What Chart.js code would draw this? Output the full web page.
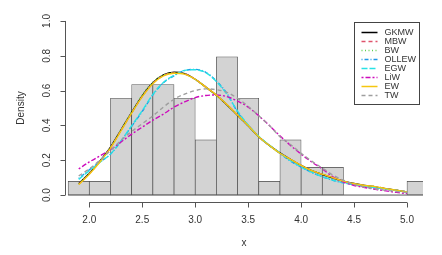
<!DOCTYPE html>
<html>
<head>
<meta charset="utf-8">
<script src="https://cdn.jsdelivr.net/npm/chart.js@4.4.1/dist/chart.umd.min.js"></script>
<style>
  html, body { margin: 0; padding: 0; background: #ffffff; }
  #wrap { width: 442px; height: 255px; }
</style>
</head>
<body>
<div id="wrap"><canvas id="chart" width="442" height="255"></canvas></div>
<script>
// ---------- histogram (density scale, bin width 0.2) ----------
const binMids = [1.9, 2.1, 2.3, 2.5, 2.7, 2.9, 3.1, 3.3, 3.5, 3.7, 3.9, 4.1, 4.3, 4.5, 4.7, 4.9, 5.1];
const binDensity = [0.079, 0.079, 0.556, 0.635, 0.635, 0.556, 0.317, 0.794, 0.556, 0.079, 0.317, 0.159, 0.159, 0, 0, 0, 0.079];
const binRange = [1.8, 5.2];

// ---------- fitted densities ----------
const xGrid = [1.9, 2.0, 2.1, 2.2, 2.3, 2.4, 2.5, 2.6, 2.7, 2.8, 2.9, 3.0, 3.1, 3.2, 3.3, 3.4,
               3.5, 3.6, 3.7, 3.8, 3.9, 4.0, 4.1, 4.2, 4.3, 4.4, 4.5, 4.6, 4.7, 4.8, 4.9, 5.0];
const densGKMW = [0.065, 0.125, 0.195, 0.275, 0.375, 0.475, 0.57, 0.645, 0.69, 0.705, 0.697, 0.665, 0.62, 0.573, 0.518, 0.458,
                  0.398, 0.335, 0.285, 0.242, 0.205, 0.17, 0.14, 0.118, 0.098, 0.08, 0.066, 0.055, 0.047, 0.037, 0.028, 0.018];
const densMBW = [0.062, 0.122, 0.192, 0.272, 0.372, 0.472, 0.567, 0.642, 0.687, 0.702, 0.696, 0.665, 0.62, 0.574, 0.519, 0.459,
                 0.399, 0.335, 0.285, 0.241, 0.205, 0.17, 0.14, 0.119, 0.099, 0.08, 0.065, 0.055, 0.048, 0.037, 0.028, 0.018];
const densBW = [0.064, 0.124, 0.194, 0.274, 0.376, 0.478, 0.575, 0.648, 0.69, 0.703, 0.695, 0.663, 0.618, 0.572, 0.517, 0.457,
                0.397, 0.334, 0.284, 0.24, 0.204, 0.17, 0.14, 0.119, 0.099, 0.08, 0.065, 0.055, 0.048, 0.037, 0.028, 0.018];
const densOLLEW = [0.095, 0.145, 0.19, 0.235, 0.31, 0.395, 0.48, 0.575, 0.645, 0.685, 0.715, 0.722, 0.705, 0.655, 0.583, 0.477,
                   0.40, 0.335, 0.285, 0.24, 0.195, 0.16, 0.13, 0.105, 0.085, 0.07, 0.06, 0.05, 0.042, 0.034, 0.026, 0.018];
const densEGW = [0.09, 0.14, 0.188, 0.235, 0.312, 0.398, 0.485, 0.578, 0.647, 0.688, 0.716, 0.72, 0.703, 0.652, 0.578, 0.482,
                 0.403, 0.338, 0.287, 0.242, 0.197, 0.161, 0.131, 0.106, 0.086, 0.071, 0.06, 0.05, 0.042, 0.034, 0.026, 0.018];
const densLiW = [0.15, 0.19, 0.225, 0.26, 0.305, 0.35, 0.39, 0.43, 0.465, 0.505, 0.535, 0.56, 0.572, 0.575, 0.565, 0.54,
                 0.505, 0.455, 0.40, 0.34, 0.285, 0.235, 0.19, 0.15, 0.105, 0.075, 0.055, 0.043, 0.033, 0.024, 0.015, 0.008];
const densEW = [0.06, 0.12, 0.19, 0.27, 0.37, 0.47, 0.565, 0.64, 0.685, 0.70, 0.695, 0.665, 0.62, 0.575, 0.52, 0.46,
                0.40, 0.335, 0.285, 0.24, 0.205, 0.17, 0.14, 0.12, 0.10, 0.08, 0.065, 0.055, 0.048, 0.037, 0.028, 0.018];
const densTW = [0.11, 0.15, 0.20, 0.255, 0.315, 0.365, 0.41, 0.455, 0.505, 0.55, 0.58, 0.60, 0.61, 0.605, 0.59, 0.555,
                0.51, 0.455, 0.40, 0.335, 0.29, 0.24, 0.195, 0.155, 0.115, 0.085, 0.06, 0.045, 0.035, 0.027, 0.02, 0.014];

const seriesNames = ['GKMW', 'MBW', 'BW', 'OLLEW', 'EGW', 'LiW', 'EW', 'TW'];
const seriesData = [densGKMW, densMBW, densBW, densOLLEW, densEGW, densLiW, densEW, densTW];

// axis ticks / titles
const xTicks = [2.0, 2.5, 3.0, 3.5, 4.0, 4.5, 5.0];
const yTicks = [0.0, 0.2, 0.4, 0.6, 0.8, 1.0];
const xTitle = 'x';
const yTitle = 'Density';

// ---------- styles (R palette + lty cycle) ----------
const lineColors = ['#000000', '#DF536B', '#61D04F', '#2297E6', '#28E2E5', '#CD0BBC', '#F5C710', '#9E9E9E'];
const lineDashes = [[], [4, 3], [1, 2.5], [1, 2, 4, 2], [6, 2], [2, 2, 5, 2], [], [4, 3]];
const FONT = '"Liberation Sans", Arial, sans-serif';

const curveSets = seriesNames.map((name, i) => ({
  type: 'line',
  label: name,
  data: xGrid.map((v, j) => ({ x: v, y: seriesData[i][j] })),
  borderColor: lineColors[i],
  borderDash: lineDashes[i],
  borderWidth: 1.4,
  pointRadius: 0,
  fill: false,
  cubicInterpolationMode: 'monotone',
  order: seriesNames.length - i
}));

// R-style axes drawn with the chart's own scales
const rAxes = {
  id: 'rAxes',
  afterDraw(chart) {
    const { ctx, chartArea: a, scales: { x, y } } = chart;
    ctx.save();
    ctx.strokeStyle = '#555';
    ctx.lineWidth = 1;
    ctx.fillStyle = '#333';
    ctx.font = '10px ' + FONT;

    // x axis
    const yb = Math.round(a.bottom) + 0.5;
    ctx.beginPath();
    ctx.moveTo(x.getPixelForValue(xTicks[0]), yb);
    ctx.lineTo(x.getPixelForValue(xTicks[xTicks.length - 1]), yb);
    xTicks.forEach(v => {
      const px = Math.round(x.getPixelForValue(v)) + 0.5;
      ctx.moveTo(px, yb);
      ctx.lineTo(px, yb + 5);
    });
    ctx.stroke();
    ctx.textAlign = 'center';
    ctx.textBaseline = 'middle';
    xTicks.forEach(v => ctx.fillText(v.toFixed(1), x.getPixelForValue(v), yb + 18));
    ctx.fillText(xTitle, (a.left + a.right) / 2, a.bottom + 41);

    // y axis
    const xl = Math.round(a.left) + 0.5;
    ctx.beginPath();
    ctx.moveTo(xl, y.getPixelForValue(yTicks[0]));
    ctx.lineTo(xl, y.getPixelForValue(yTicks[yTicks.length - 1]));
    yTicks.forEach(v => {
      const py = Math.round(y.getPixelForValue(v)) + 0.5;
      ctx.moveTo(xl, py);
      ctx.lineTo(xl - 5, py);
    });
    ctx.stroke();
    yTicks.forEach(v => {
      ctx.save();
      ctx.translate(a.left - 18, y.getPixelForValue(v));
      ctx.rotate(-Math.PI / 2);
      ctx.fillText(v.toFixed(1), 0, 0);
      ctx.restore();
    });
    ctx.save();
    ctx.translate(a.left - 44, (a.top + a.bottom) / 2);
    ctx.rotate(-Math.PI / 2);
    ctx.fillText(yTitle, 0, 0);
    ctx.restore();
    ctx.restore();
  }
};

// boxed legend, top right, like legend("topright", ...)
const rLegend = {
  id: 'rLegend',
  afterDraw(chart) {
    const { ctx, chartArea: a } = chart;
    const items = chart.data.datasets.filter(d => d.type === 'line' && seriesNames.includes(d.label));
    const rowH = 9;
    const w = 65, h = items.length * rowH + 10;
    const left = Math.round(a.right - 4 - w) + 0.5;
    const top = Math.round(a.top + 8) + 0.5;
    ctx.save();
    ctx.fillStyle = '#ffffff';
    ctx.fillRect(left, top, w, h);
    ctx.strokeStyle = '#444';
    ctx.lineWidth = 1;
    ctx.strokeRect(left, top, w, h);
    ctx.font = '9px ' + FONT;
    ctx.textAlign = 'left';
    ctx.textBaseline = 'middle';
    items.forEach((d, i) => {
      const cy = top + 10 + i * rowH;
      ctx.beginPath();
      ctx.setLineDash(d.borderDash);
      ctx.strokeStyle = d.borderColor;
      ctx.lineWidth = 1.5;
      ctx.moveTo(left + 7, cy);
      ctx.lineTo(left + 23, cy);
      ctx.stroke();
      ctx.setLineDash([]);
      ctx.fillStyle = '#333';
      ctx.fillText(d.label, left + 30, cy + 0.5);
    });
    ctx.restore();
  }
};

new Chart(document.getElementById('chart'), {
  type: 'bar',
  data: {
    datasets: [
      {
        type: 'bar',
        label: 'hist',
        data: binMids.map((v, i) => ({ x: v, y: binDensity[i] })),
        backgroundColor: '#D3D3D3',
        borderColor: '#4a4a4a',
        borderWidth: 0.7,
        borderSkipped: false,
        barPercentage: 1,
        categoryPercentage: 1,
        order: 100
      },
      {
        type: 'line',
        label: 'baseline',
        data: binRange.map(v => ({ x: v, y: 0 })),
        borderColor: '#555555',
        borderWidth: 1,
        pointRadius: 0,
        order: 99
      },
      ...curveSets
    ]
  },
  options: {
    responsive: false,
    animation: false,
    devicePixelRatio: 1,
    layout: { padding: { left: 65, right: 19, top: 14, bottom: 53 } },
    scales: {
      x: {
        type: 'linear',
        offset: false,
        min: 1.7705,
        max: 5.151,
        display: false,
        afterBuildTicks: s => { s.ticks = xTicks.map(v => ({ value: v })); }
      },
      y: {
        type: 'linear',
        min: -0.04,
        max: 1.04,
        display: false,
        afterBuildTicks: s => { s.ticks = yTicks.map(v => ({ value: v })); }
      }
    },
    plugins: {
      legend: { display: false },
      tooltip: { enabled: false }
    }
  },
  plugins: [rAxes, rLegend]
});
</script>
</body>
</html>
